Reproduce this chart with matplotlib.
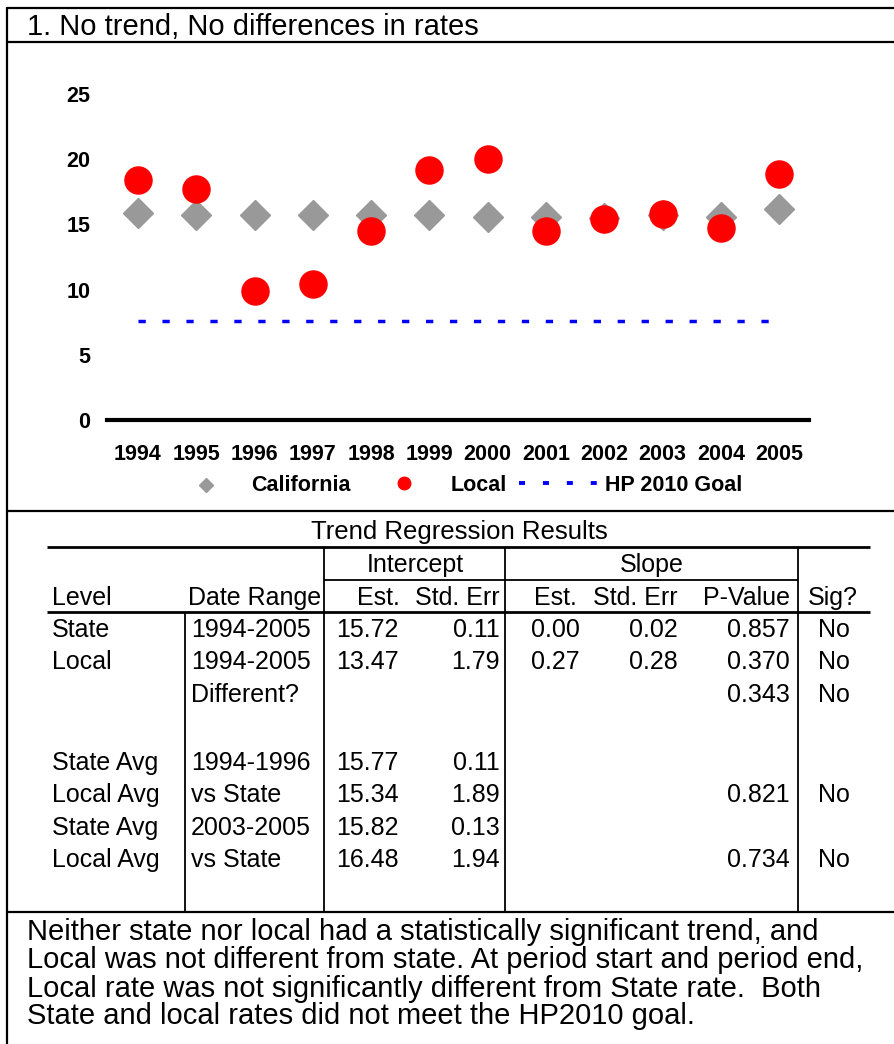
import matplotlib
matplotlib.use('Agg')
import matplotlib.pyplot as plt

plt.rcParams['font.family'] = ['Liberation Sans', 'DejaVu Sans']

# данные графика
years = ['1994', '1995', '1996', '1997', '1998', '1999',
         '2000', '2001', '2002', '2003', '2004', '2005']
california = [15.85, 15.75, 15.7, 15.7, 15.75, 15.7, 15.55, 15.55, 15.5, 15.75, 15.55, 16.15]
local = [18.4, 17.7, 9.9, 10.4, 14.5, 19.2, 20.0, 14.5, 15.4, 15.8, 14.75, 18.9]
hp_goal = [7.6, 7.6, 7.6, 7.6, 7.6, 7.6, 7.6, 7.6, 7.6, 7.6, 7.6, 7.6]
y_ticks = [0, 5, 10, 15, 20, 25]

# таблица регрессии
level_col = ['State', 'Local', '', 'State Avg', 'Local Avg', 'State Avg', 'Local Avg']
range_col = ['1994-2005', '1994-2005', 'Different?', '1994-1996', 'vs State', '2003-2005', 'vs State']
int_est = ['15.72', '13.47', '', '15.77', '15.34', '15.82', '16.48']
int_se = ['0.11', '1.79', '', '0.11', '1.89', '0.13', '1.94']
slope_est = ['0.00', '0.27', '', '', '', '', '']
slope_se = ['0.02', '0.28', '', '', '', '', '']
p_value = ['0.857', '0.370', '0.343', '', '0.821', '', '0.734']
sig = ['No', 'No', 'No', '', 'No', '', 'No']

title = '1. No trend, No differences in rates'
summary = ['Neither state nor local had a statistically significant trend, and',
           'Local was not different from state. At period start and period end,',
           'Local rate was not significantly different from State rate.  Both',
           'State and local rates did not meet the HP2010 goal.']

W, H = 895, 1044
GRAY = '#999999'
RED = '#ff0000'
BLUE = '#0000ff'

fig = plt.figure(figsize=(W / 100, H / 100), dpi=100)

# подложка в пикселях для рамок, таблицы и текста
ov = fig.add_axes([0, 0, 1, 1])
ov.set_xlim(0, W)
ov.set_ylim(H, 0)
ov.axis('off')

def hline(y, x0, x1, lw=1.4):
    ov.plot([x0, x1], [y, y], color='black', lw=lw, solid_capstyle='butt')

def vline(x, y0, y1, lw=1.3):
    ov.plot([x, x], [y0, y1], color='black', lw=lw, solid_capstyle='butt')

# рамки
vline(7, 7, H, lw=1.6)
hline(8, 7, W, lw=1.6)
hline(42, 7, W, lw=1.6)
hline(511, 7, W, lw=1.6)
hline(912, 7, W, lw=1.6)

ov.text(27, 35, title, fontsize=21, ha='left', va='baseline')

# график
ax = fig.add_axes([107 / W, 1 - 433 / H, 702 / W, 365 / H])
ax.set_facecolor('none')
x = range(len(years))
ax.plot(x, california, linestyle='none', marker='D', ms=15, color=GRAY, mec=GRAY, zorder=3)
ax.plot(x, local, linestyle='none', marker='o', ms=19.5, color=RED, mec=RED, zorder=4)
ax.plot(x, hp_goal, color=BLUE, lw=2.5, dashes=(2.1, 4.8), zorder=2)
ax.axhline(0, color='black', lw=3, clip_on=False)
ax.set_xlim(-0.53, len(years) - 0.49)
ax.set_ylim(-1, 27)
ax.set_xticks(list(x))
ax.set_xticklabels(years, fontsize=15.5, fontweight='bold')
ax.set_yticks(y_ticks)
ax.set_yticklabels([str(v) for v in y_ticks], fontsize=15.5, fontweight='bold')
ax.tick_params(axis='x', length=0, pad=8)
ax.tick_params(axis='y', length=0, pad=12)
for s in ax.spines.values():
    s.set_visible(False)

# легенда
ov.plot([206], [485], marker='D', ms=7.5, color=GRAY, linestyle='none')
ov.text(251, 491, 'California', fontsize=15.5, fontweight='bold', va='baseline')
ov.plot([404], [483], marker='o', ms=9, color=RED, linestyle='none')
ov.text(451, 491, 'Local', fontsize=15.5, fontweight='bold', va='baseline')
ov.plot([519, 597], [483, 483], color=BLUE, lw=2.8, dashes=(1.55, 4.6))
ov.text(605, 491, 'HP 2010 Goal', fontsize=15.5, fontweight='bold', va='baseline')

# таблица
TF = 18
ov.text(459, 539, 'Trend Regression Results', fontsize=18.5, ha='center', va='baseline')
hline(547, 47, 870, lw=2)
hline(580, 324, 798, lw=1.3)
hline(612, 47, 870, lw=2)
vline(185, 612, 912)
for xv in (324, 505, 798):
    vline(xv, 547, 912)

ov.text(415, 572, 'Intercept', fontsize=TF, ha='center', va='baseline')
ov.text(652, 572, 'Slope', fontsize=TF, ha='center', va='baseline')
headers = [('Level', 52, 'left'), ('Date Range', 188, 'left'), ('Est.', 400, 'right'),
           ('Std. Err', 500, 'right'), ('Est.', 577, 'right'), ('Std. Err', 678, 'right'),
           ('P-Value', 790, 'right'), ('Sig?', 808, 'left')]
for txt, xv, ha in headers:
    ov.text(xv, 605, txt, fontsize=TF, ha=ha, va='baseline')

columns = [(level_col, 52, 'left'), (range_col, 191, 'left'), (int_est, 336, 'left'),
           (int_se, 500, 'right'), (slope_est, 531, 'left'), (slope_se, 678, 'right'),
           (p_value, 790, 'right'), (sig, 818, 'left')]
row_y = [637, 669, 702, 770, 802, 835, 867]
for col, xv, ha in columns:
    for val, yv in zip(col, row_y):
        if val:
            ov.text(xv, yv, val, fontsize=TF, ha=ha, va='baseline')

# вывод
for i, line in enumerate(summary):
    ov.text(27, [940, 968, 997, 1024][i], line, fontsize=21, ha='left', va='baseline')

fig.savefig('out.png', dpi=100)
